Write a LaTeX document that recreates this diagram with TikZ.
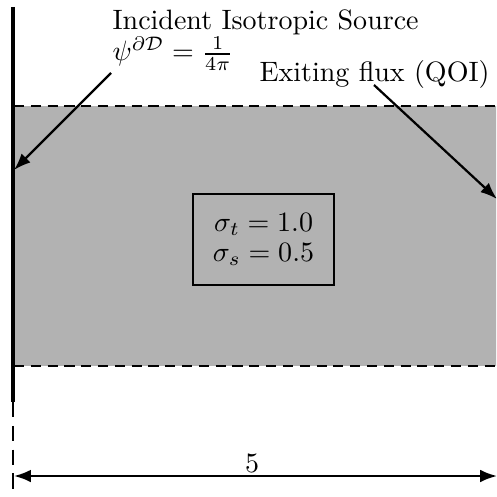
\documentclass[tikz,border=0pt]{standalone}
\usetikzlibrary{arrows.meta}
\begin{document}
\begin{tikzpicture}[x=0.357pt,y=-0.357pt,
  arr/.style={thick,-{Latex[length=6pt,width=4.5pt]}},
  dimarr/.style={thick,{Latex[length=6pt,width=4.5pt]}-{Latex[length=6pt,width=4.5pt]}},
  boundary/.style={dash pattern=on 3.6pt off 2.4pt,line width=0.55pt}]
\clip (0,0) rectangle (496,497);
% medium
\fill[black!30] (14,106) rectangle (520,366);
\draw[boundary] (14,106) -- (520,106);
\draw[boundary] (14,366) -- (520,366);
% left boundary
\draw[line width=1.2pt] (13,7) -- (13,402);
\draw[dash pattern=on 5.5pt off 3pt,line width=0.5pt] (13,402) -- (13,500);
% material box
\node[draw,thick,minimum width=141*0.357pt,minimum height=91*0.357pt,align=center,inner sep=0pt] (mat) at (263.5,239.5)
  {$\sigma_t = 1.0$\\[-1.5pt]$\sigma_s = 0.5$};
% labels
\node[anchor=base west,inner sep=0pt] (src) at (112,30) {Incident Isotropic Source};
\node[anchor=base west,inner sep=0pt] (psi) at (112,61) {$\psi^{\partial\mathcal{D}} = \frac{1}{4\pi}$};
\node[anchor=base west,inner sep=0pt] (exit) at (259,82) {Exiting flux (QOI)};
\coordinate (inA) at (111,73);
\coordinate (inB) at (14,170);
\coordinate (exA) at (374,85);
\coordinate (exB) at (497,199);
\draw[arr] (inA) -- (inB);
\draw[arr] (exA) -- (exB);
% dimension
\coordinate (dL) at (14,476);
\coordinate (dR) at (497,476);
\draw[dimarr] (dL) -- (dR);
\node[anchor=base,inner sep=0pt] (five) at (252,472) {5};
\end{tikzpicture}
\end{document}
